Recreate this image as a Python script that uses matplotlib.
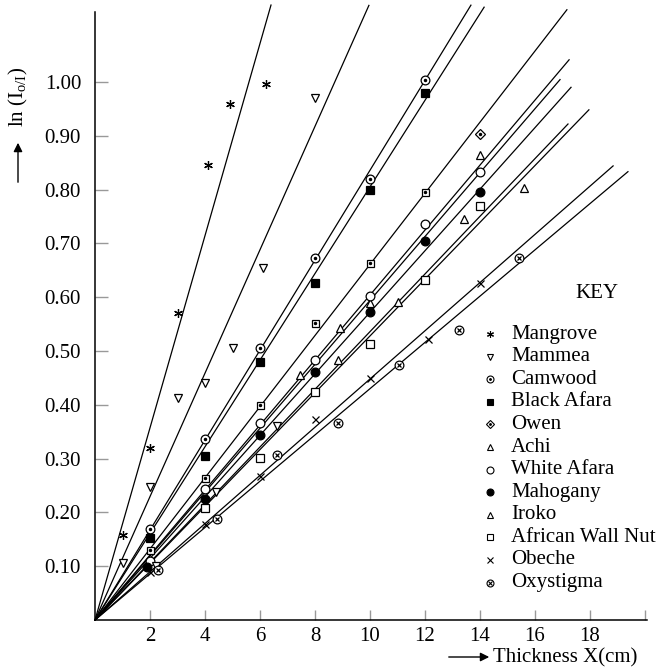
import numpy as np
import matplotlib
matplotlib.use("Agg")
import matplotlib.pyplot as plt

plt.rcParams['font.family'] = ['Liberation Serif', 'DejaVu Serif']
plt.rcParams['mathtext.fontset'] = 'custom'
plt.rcParams['mathtext.rm'] = 'Liberation Serif'
plt.rcParams['mathtext.it'] = 'Liberation Serif:italic'

W, H = 659, 668

# measured points: thickness X (cm) and ln(Io/I)
mangrove_x = [1.0, 2.0, 3.0, 4.1, 4.9, 6.2]
mangrove_y = [0.158, 0.32, 0.57, 0.846, 0.959, 0.996]
mammea_x = [1.0, 2.0, 3.0, 4.0, 5.0, 6.1, 8.0]
mammea_y = [0.106, 0.247, 0.413, 0.44, 0.505, 0.654, 0.97]
camwood_x = [2.0, 4.0, 6.0, 8.0, 10.0, 12.0]
camwood_y = [0.169, 0.336, 0.505, 0.672, 0.82, 1.004]
blackafara_x = [2.0, 4.0, 6.0, 8.0, 10.0, 12.0]
blackafara_y = [0.152, 0.305, 0.48, 0.626, 0.80, 0.979]
owen_x = [2.0, 4.0, 6.0, 8.0, 10.0, 12.0, 14.0]
owen_y = [0.13, 0.264, 0.40, 0.552, 0.664, 0.796, 0.903]
achi_x = [7.45, 8.9, 10.0, 14.0]
achi_y = [0.455, 0.543, 0.589, 0.864]
whiteafara_x = [2.0, 4.0, 6.0, 8.0, 10.0, 12.0, 14.0]
whiteafara_y = [0.11, 0.243, 0.366, 0.483, 0.602, 0.736, 0.833]
mahogany_x = [1.9, 4.0, 6.0, 8.0, 10.0, 12.0, 14.0]
mahogany_y = [0.099, 0.225, 0.344, 0.461, 0.572, 0.705, 0.796]
iroko_x = [2.2, 4.4, 6.6, 8.85, 11.0, 13.4, 15.6]
iroko_y = [0.10, 0.238, 0.36, 0.483, 0.591, 0.745, 0.803]
awn_x = [4.0, 6.0, 8.0, 10.0, 12.0, 14.0]
awn_y = [0.208, 0.301, 0.424, 0.513, 0.632, 0.77]
obeche_x = [2.0, 4.0, 6.0, 8.0, 10.0, 12.1, 14.0]
obeche_y = [0.09, 0.178, 0.268, 0.374, 0.45, 0.522, 0.626]
oxy_x = [2.3, 4.45, 6.6, 8.85, 11.05, 13.25, 15.4]
oxy_y = [0.093, 0.188, 0.307, 0.366, 0.474, 0.539, 0.673]

# fitted lines through origin: slope and x where the drawn line stops
fit_slope = {'Mangrove': 0.1786, 'Mammea': 0.1147, 'Camwood': 0.0836,
             'Black Afara': 0.0805, 'Owen': 0.0661, 'Achi': 0.0604,
             'White Afara': 0.0594, 'Mahogany': 0.0572, 'Iroko': 0.0528,
             'African Wall Nut': 0.0536, 'Obeche': 0.0448, 'Oxystigma': 0.0430}
fit_end = {'Mangrove': 6.4, 'Mammea': 9.96, 'Camwood': 13.67,
           'Black Afara': 14.15, 'Owen': 17.16, 'Achi': 17.24,
           'White Afara': 16.91, 'Mahogany': 17.31, 'Iroko': 17.96,
           'African Wall Nut': 17.2, 'Obeche': 18.84, 'Oxystigma': 19.38}

key_names = ['Mangrove', 'Mammea', 'Camwood', 'Black Afara', 'Owen', 'Achi',
             'White Afara', 'Mahogany', 'Iroko', 'African Wall Nut', 'Obeche',
             'Oxystigma']

# marker layers: (marker, size scale, face)
AST = (6, 2, 0)
styles = {
    'Mangrove': [(AST, 1.0, 'k')],
    'Mammea': [('v', 1.0, 'white')],
    'Camwood': [('o', 1.0, 'white'), ('o', 0.25, 'k')],
    'Black Afara': [('s', 0.85, 'k')],
    'Owen': [('D', 0.85, 'white'), ('o', 0.25, 'k')],
    'Achi': [('^', 1.0, 'white')],
    'White Afara': [('o', 1.0, 'white')],
    'Mahogany': [('o', 1.0, 'k')],
    'Iroko': [('^', 1.0, 'white')],
    'African Wall Nut': [('s', 0.85, 'white')],
    'Obeche': [('x', 0.8, 'k')],
    'Oxystigma': [('o', 1.0, 'white'), ('x', 0.55, 'k')],
}

fig = plt.figure(figsize=(W / 100, H / 100), dpi=100)
x0, y0 = 95, 620          # origin in pixels
ppx, ppy = 27.5, 538.0    # pixels per unit
ax = fig.add_axes([x0 / W, (H - y0) / H, (W - x0) / W, y0 / H])
ax.set_xlim(0, (W - x0) / ppx)
ax.set_ylim(0, y0 / ppy)
ax.patch.set_alpha(0)


def fx(px):
    return px / W


def fy(py):
    return 1 - py / H


def draw_points(xs, ys, layers, ms=6.3, **kw):
    for m, sc, fc in layers:
        ax.plot(xs, ys, ls='none', marker=m, ms=ms * sc, mfc=fc, mec='k',
                mew=0.9, zorder=3, clip_on=False, **kw)


data = {
    'Mangrove': (mangrove_x, mangrove_y),
    'Mammea': (mammea_x, mammea_y),
    'Camwood': (camwood_x, camwood_y),
    'Black Afara': (blackafara_x, blackafara_y),
    'Owen': (owen_x, owen_y),
    'Achi': (achi_x, achi_y),
    'White Afara': (whiteafara_x, whiteafara_y),
    'Mahogany': (mahogany_x, mahogany_y),
    'Iroko': (iroko_x, iroko_y),
    'African Wall Nut': (awn_x, awn_y),
    'Obeche': (obeche_x, obeche_y),
    'Oxystigma': (oxy_x, oxy_y),
}

for name in key_names:
    xe = fit_end[name]
    ax.plot([0, xe], [0, fit_slope[name] * xe], color='k', lw=0.9,
            clip_on=False, zorder=2)
    xs, ys = data[name]
    if name == 'Owen':
        # scanned plot shows the early Owen points as squares
        draw_points(xs[:-1], ys[:-1], [('s', 0.8, 'white'), ('o', 0.25, 'k')])
        draw_points(xs[-1:], ys[-1:], styles[name])
    elif name == 'Iroko':
        draw_points(xs[:3], ys[:3], [('v', 1.0, 'white')])
        draw_points(xs[3:], ys[3:], styles[name])
    else:
        draw_points(xs, ys, styles[name])

# axes
for s in ['top', 'right']:
    ax.spines[s].set_visible(False)
ax.spines['left'].set_bounds(0, 1.13)
ax.spines['bottom'].set_bounds(0, 20.07)
ax.spines['left'].set_linewidth(1.1)
ax.spines['bottom'].set_linewidth(1.1)

xt = np.arange(2, 21, 2)
ax.set_xticks(xt)
ax.set_xticklabels([str(v) if v < 20 else '' for v in xt])
yt = np.round(np.arange(0.1, 1.01, 0.1), 2)
ax.set_yticks(yt)
ax.set_yticklabels(['%.2f' % v for v in yt])
ax.tick_params(axis='x', direction='in', length=7, width=1, color='#999999',
               labelsize=15, pad=5)
ax.tick_params(axis='y', direction='in', length=9.5, width=1, color='#999999',
               labelsize=15, pad=10)

# axis labels with arrows
ax.annotate('', xy=(fx(492), fy(657)), xytext=(fx(446), fy(657)),
            xycoords='figure fraction',
            arrowprops=dict(arrowstyle='-|>', lw=1, color='k', mutation_scale=13))
fig.text(fx(493), fy(667), 'Thickness X(cm)', fontsize=15, va='bottom', ha='left')
ax.annotate('', xy=(fx(18), fy(140)), xytext=(fx(18), fy(185)),
            xycoords='figure fraction',
            arrowprops=dict(arrowstyle='-|>', lw=1, color='k', mutation_scale=13))
fig.text(fx(18), fy(97), r'$\mathrm{ln\ (I_{o/I})}$', fontsize=15, rotation=90,
         va='center', ha='center')

# key
fig.text(fx(597), fy(293), 'KEY', fontsize=15, ha='center', va='center')
for i, name in enumerate(key_names):
    py = 334 + 22.6 * i
    for m, sc, fc in styles[name]:
        ax.plot([fx(490)], [fy(py)], ls='none', marker=m, ms=5.0 * sc, mfc=fc,
                mec='k', mew=0.8, transform=fig.transFigure, clip_on=False)
    fig.text(fx(511), fy(py), name, fontsize=15, ha='left', va='center')

fig.savefig('out.png', dpi=100)
